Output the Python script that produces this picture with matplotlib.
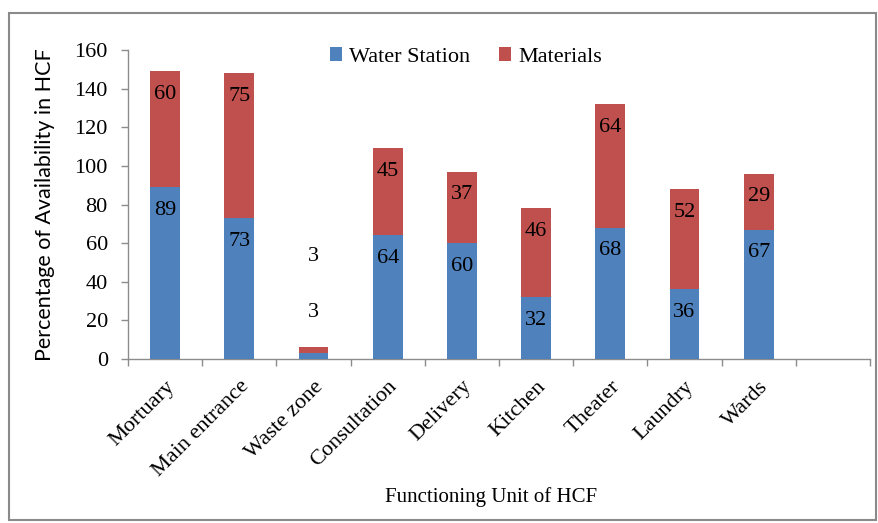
import matplotlib
matplotlib.use("Agg")
import matplotlib.pyplot as plt
from matplotlib.patches import Rectangle

categories = ["Mortuary", "Main entrance", "Waste zone", "Consultation",
              "Delivery", "Kitchen", "Theater", "Laundry", "Wards"]
water_station = [89, 73, 3, 64, 60, 32, 68, 36, 67]
materials = [60, 75, 3, 45, 37, 46, 64, 52, 29]
y_ticks = [0, 20, 40, 60, 80, 100, 120, 140, 160]

BLUE = "#4F81BD"
RED = "#C0504D"
AXIS_GREY = "#8C8C8C"
SERIF = "Liberation Serif"

W, H = 879, 523
fig = plt.figure(figsize=(W / 100, H / 100), dpi=100)
ax = fig.add_axes([128 / W, 1 - 359 / H, (870 - 128) / W, (359 - 50) / H])

n_slots = len(categories) + 1
x = [i + 0.5 for i in range(len(categories))]
bw = 0.40

b1 = ax.bar(x, water_station, width=bw, color=BLUE, label="Water Station", zorder=3)
b2 = ax.bar(x, materials, width=bw, bottom=water_station, color=RED,
            label="Materials", zorder=3)

# value labels sit just inside the top of each segment;
# the tiny waste-zone segments get their labels lifted above the bar
lift = {2: (41, 91)}
for i in range(len(categories)):
    w_top = water_station[i]
    m_top = water_station[i] + materials[i]
    if i in lift:
        off_w, off_m = lift[i]
    else:
        off_w, off_m = -23, -23
    for val, top, off in ((water_station[i], w_top, off_w), (materials[i], m_top, off_m)):
        ax.annotate(f"{val}", xy=(x[i], top), xytext=(0, off * 0.72),
                    textcoords="offset points", ha="center", va="center",
                    fontsize=16, family=SERIF, color="black", zorder=4)

ax.set_xlim(0, n_slots)
ax.set_ylim(0, 160)
ax.set_yticks(y_ticks)
ax.set_yticklabels([str(v) for v in y_ticks], fontsize=16, family=SERIF)

ax.set_xticks(range(n_slots + 1))
ax.set_xticklabels([])
ax.set_xticks(x, minor=True)
ax.set_xticklabels(categories, minor=True, rotation=45, ha="right",
                   rotation_mode="anchor", fontsize=16, family=SERIF)
ax.tick_params(axis="x", which="minor", length=0, pad=13)
ax.tick_params(axis="x", which="major", length=5, color=AXIS_GREY, width=1)
ax.tick_params(axis="y", length=5, color=AXIS_GREY, width=1, pad=9.5)

for s in ("top", "right"):
    ax.spines[s].set_visible(False)
for s in ("left", "bottom"):
    ax.spines[s].set_color(AXIS_GREY)
    ax.spines[s].set_linewidth(1)

ax.set_ylabel("Percentage of Availability in HCF", fontsize=15.5, family="Lato")
ax.yaxis.set_label_coords((45 - 128) / (870 - 128), 0.5)
ax.yaxis.label.set_va("center")
ax.set_xlabel("Functioning Unit of HCF", fontsize=15, family=SERIF)
ax.xaxis.set_label_coords((491 - 128) / (870 - 128), (359 - 497) / (359 - 50))
ax.xaxis.label.set_va("center")

fig.legend(handles=[b1, b2], loc="center", bbox_to_anchor=(466 / W, 1 - 57 / H),
           ncol=2, frameon=False, prop={"family": SERIF, "size": 16},
           handlelength=0.55, handleheight=0.55, handletextpad=0.3, columnspacing=1.3)

fig.patches.append(Rectangle((9 / W, 1 - 520 / H), (876 - 9) / W, (520 - 13) / H,
                             transform=fig.transFigure, fill=False,
                             edgecolor="#8A8A8A", linewidth=1.5))

fig.savefig("out.png", dpi=100)
